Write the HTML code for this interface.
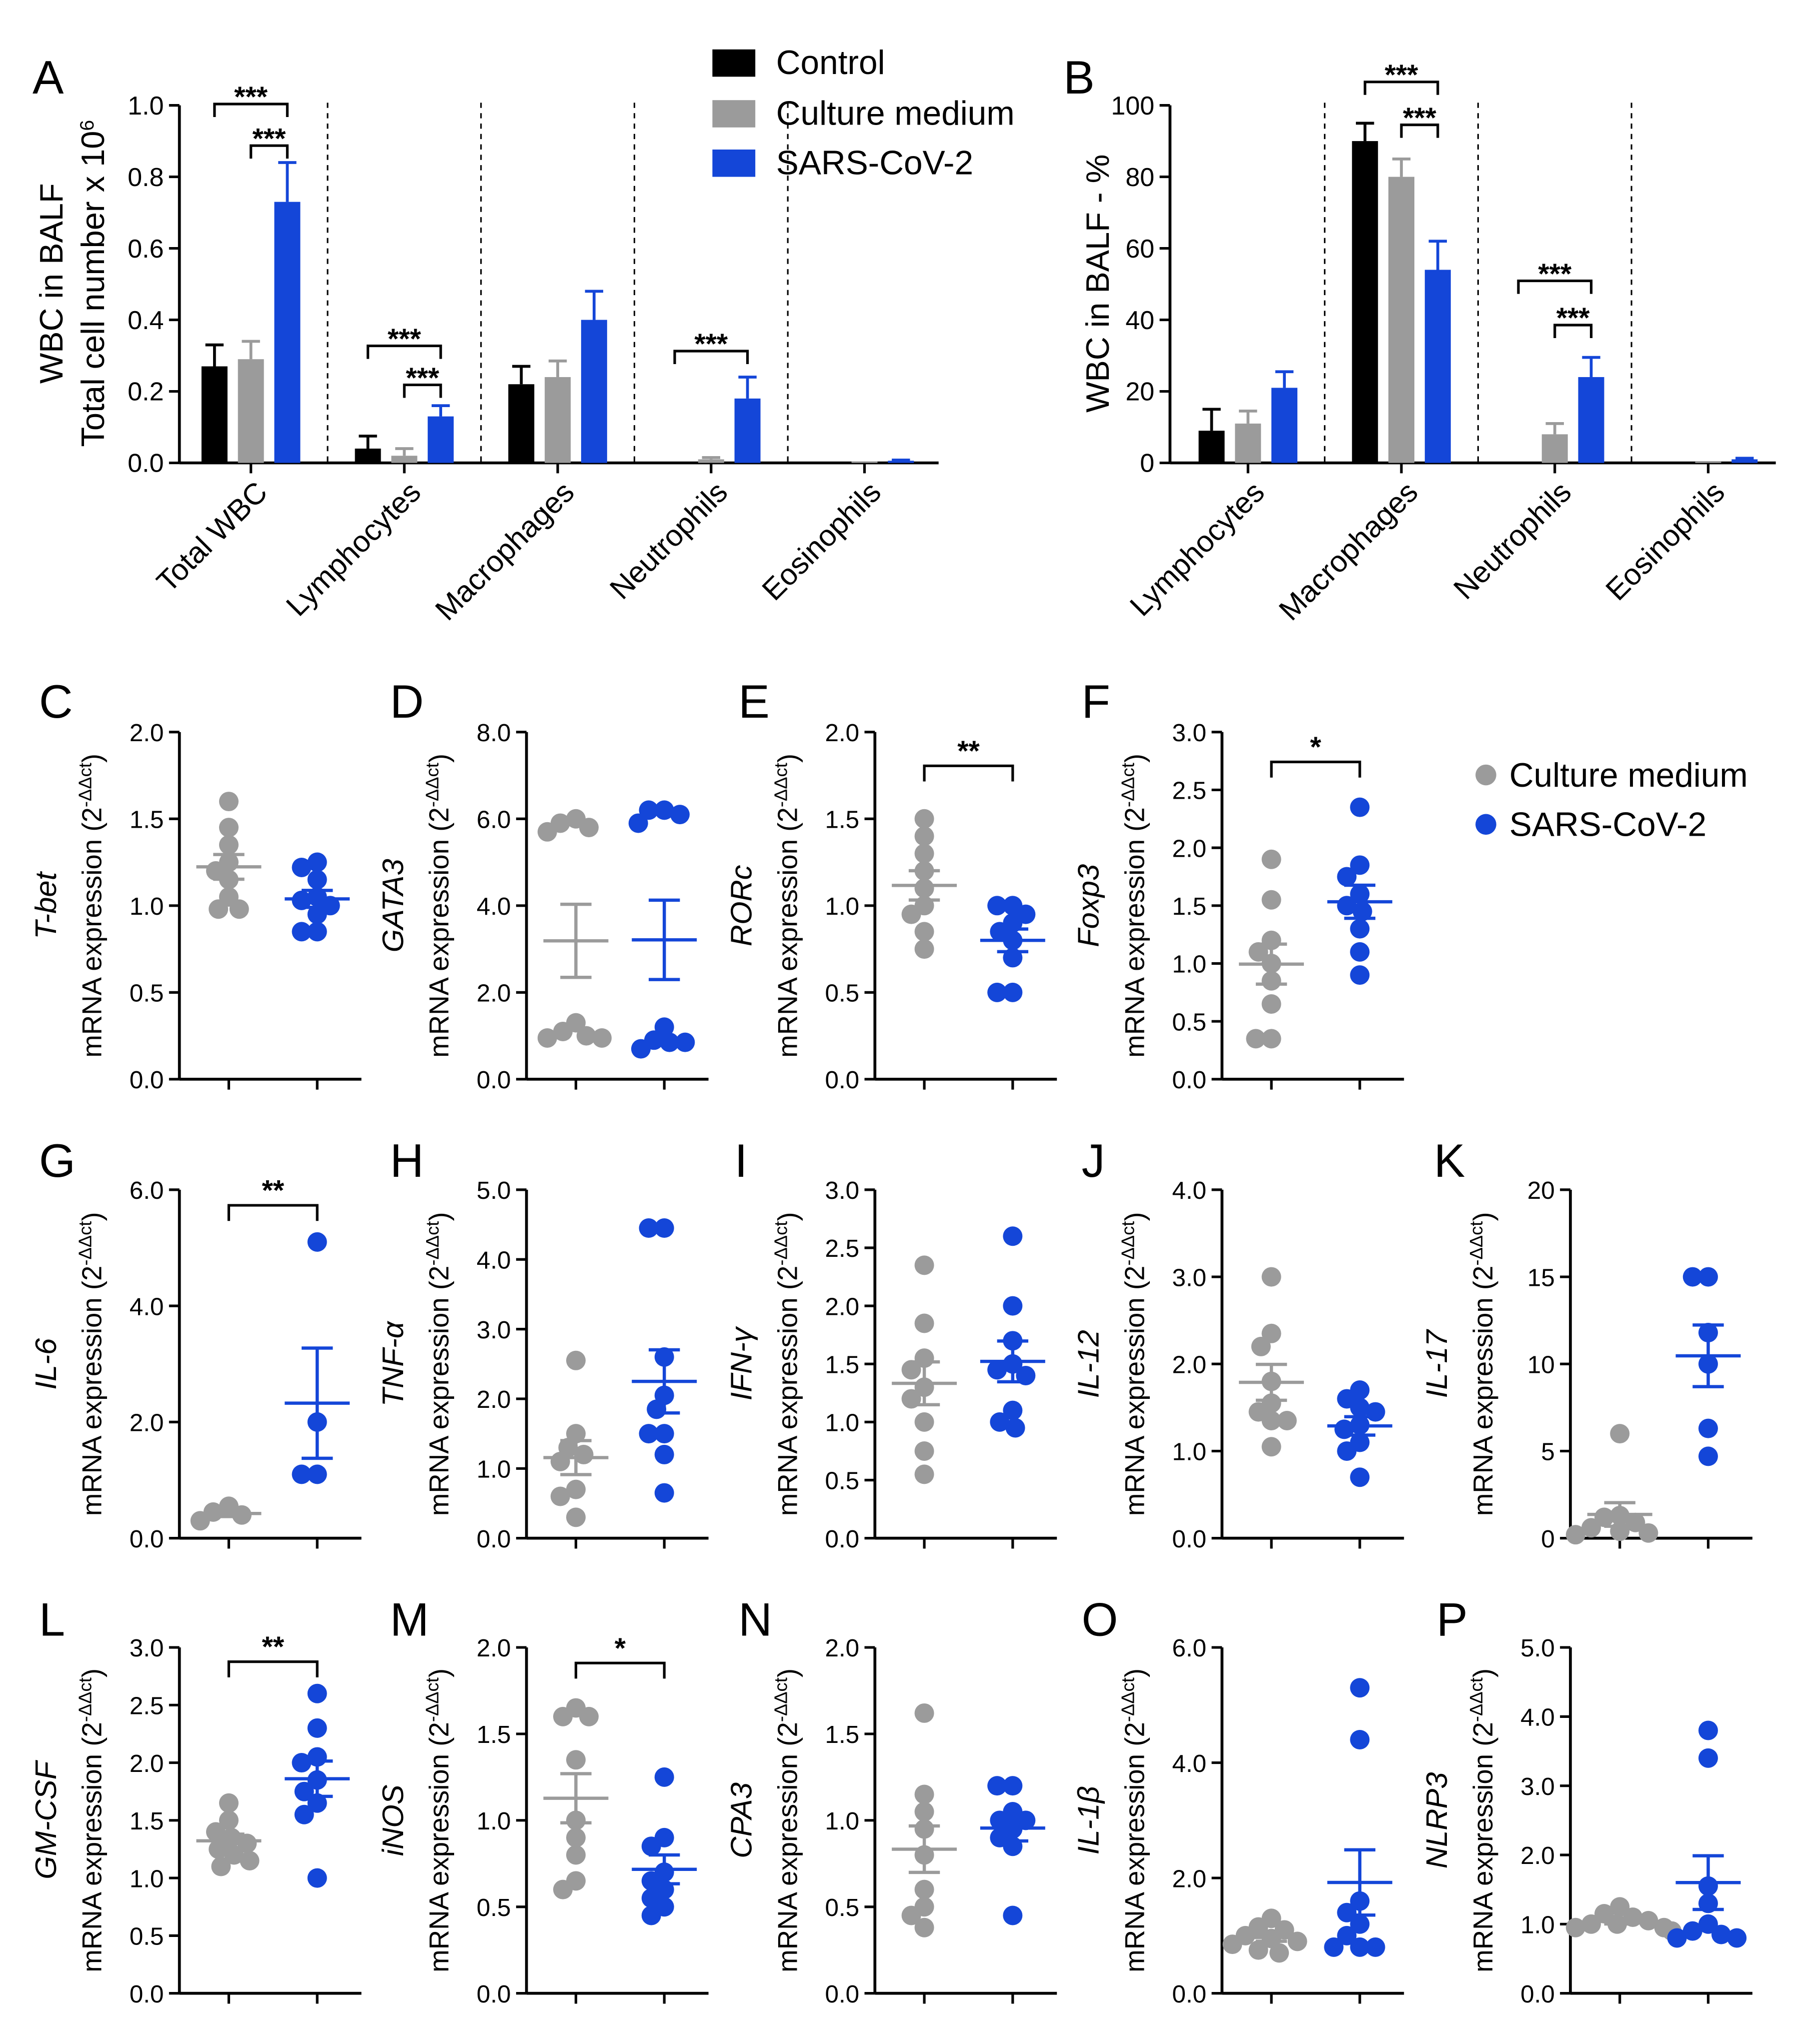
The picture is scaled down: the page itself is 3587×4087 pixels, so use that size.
<!DOCTYPE html>
<html><head><meta charset="utf-8">
<style>
html,body{margin:0;padding:0;background:#fff;}
svg{display:block;font-family:"Liberation Sans",Arial,sans-serif;}
</style></head>
<body>
<svg id="fig" width="3587" height="4087" viewBox="0 0 1380 1572" preserveAspectRatio="none" xmlns="http://www.w3.org/2000/svg"></svg>
<script>
// ---------- Panel A data ----------
const aCategories=["Total  WBC","Lymphocytes","Macrophages","Neutrophils","Eosinophils"];
const aControl=[0.27,0.04,0.22,0,0];
const aControlErr=[0.06,0.035,0.05,0,0];
const aCulture=[0.29,0.02,0.24,0.01,0.004];
const aCultureErr=[0.05,0.02,0.045,0.005,0];
const aSars=[0.73,0.13,0.40,0.18,0.006];
const aSarsErr=[0.11,0.03,0.08,0.06,0.002];
const aTicks=["0.0","0.2","0.4","0.6","0.8","1.0"];
// ---------- Panel B data ----------
const bCategories=["Lymphocytes","Macrophages","Neutrophils","Eosinophils"];
const bControl=[9,90,0.3,0];
const bControlErr=[6,5,0,0];
const bCulture=[11,80,8,0.5];
const bCultureErr=[3.5,5,3,0];
const bSars=[21,54,24,1];
const bSarsErr=[4.5,8,5.5,0.3];
const bTicks=["0","20","40","60","80","100"];
// ---------- scatter data ----------
const cGrey=[1.6,1.45,1.35,1.25,1.2,1.15,1.05,0.98,0.98];
const cBlue=[1.25,1.22,1.15,1.05,1.03,1.0,0.95,0.85,0.85];
const dGrey=[6.0,5.9,5.8,5.7,1.3,1.1,1.0,0.95,0.95];
const dBlue=[6.2,6.2,6.1,5.9,1.2,0.9,0.85,0.85,0.7];
const eGrey=[1.5,1.4,1.3,1.2,1.1,1.0,0.95,0.85,0.75];
const eBlue=[1.0,1.0,0.95,0.9,0.85,0.8,0.7,0.5,0.5];
const fGrey=[1.9,1.55,1.2,1.1,1.0,0.85,0.65,0.35,0.35];
const fBlue=[2.35,1.85,1.75,1.6,1.5,1.45,1.3,1.1,0.9];
const gGrey=[0.55,0.45,0.4,0.3];
const gBlue=[5.1,2.0,1.1,1.1];
const hGrey=[2.55,1.5,1.3,1.2,1.1,0.7,0.6,0.3];
const hBlue=[4.45,4.45,2.6,2.05,1.85,1.5,1.5,1.2,0.65];
const iGrey=[2.35,1.85,1.55,1.45,1.3,1.2,1.0,0.75,0.55];
const iBlue=[2.6,2.0,1.7,1.5,1.45,1.4,1.1,1.0,0.95];
const jGrey=[3.0,2.35,2.2,1.8,1.55,1.45,1.35,1.35,1.05];
const jBlue=[1.7,1.6,1.5,1.45,1.3,1.25,1.1,1.0,0.7];
const kGrey=[6.0,1.3,1.2,0.9,0.6,0.4,0.3,0.2];
const kBlue=[15,15,11.8,10,6.3,4.7];
const lGrey=[1.65,1.5,1.4,1.35,1.3,1.25,1.2,1.15,1.1];
const lBlue=[2.6,2.3,2.05,2.0,1.85,1.75,1.65,1.55,1.0];
const mGrey=[1.65,1.6,1.6,1.35,1.0,0.9,0.8,0.65,0.6];
const mBlue=[1.25,0.9,0.85,0.7,0.65,0.6,0.55,0.5,0.45];
const nGrey=[1.62,1.15,1.05,0.95,0.8,0.6,0.5,0.45,0.38];
const nBlue=[1.2,1.2,1.05,1.0,1.0,0.95,0.9,0.85,0.45];
const oGrey=[1.3,1.15,1.1,1.0,0.95,0.9,0.85,0.75,0.7];
const oBlue=[5.3,4.4,1.6,1.4,1.2,1.0,0.8,0.8,0.8];
const pGrey=[1.25,1.15,1.1,1.05,1.0,1.0,0.95,0.95,0.9];
const pBlue=[3.8,3.4,1.55,1.3,1.0,0.9,0.85,0.8,0.8];

const NS="http://www.w3.org/2000/svg";
const svg=document.getElementById("fig");
const BLACK="#000",GREY="#9b9b9b",BLUE="#1446d8";
function mk(tag,attrs,parent){const e=document.createElementNS(NS,tag);for(const k in attrs)e.setAttribute(k,attrs[k]);(parent||svg).appendChild(e);return e;}
function line(x1,y1,x2,y2,p,sw,col,dash){return mk("line",{x1,y1,x2,y2,stroke:col||"#000","stroke-width":sw||2,"stroke-dasharray":dash||"none"},p);}
function txt(x,y,s,size,p,anchor,extra){const t=mk("text",Object.assign({x,y,"font-size":size,"text-anchor":anchor||"start",fill:"#000"},extra||{}),p);t.textContent=s;return t;}

// ---------- bar chart ----------
function barChart(o){
  const g=mk("g",{});
  
  
  const ys=v=>o.yBot-(v/o.max)*(o.yBot-o.yTop);
  const ax=line(o.x0,o.yTop,o.x0,o.yBot,g,2.2);
  
  
  const xa=line(o.x0,o.yBot,o.x1,o.yBot,g,2.2);
  
  
  o.ticks.forEach((t,i)=>{
    const v=o.max*i/(o.ticks.length-1);
    const y=ys(v);
    line(o.x0-8,y,o.x0,y,g,2);
    const tl=txt(o.x0-12,y+7,t,20,g,"end");
    
    
  });
  const series=[[o.s1,o.e1,BLACK,"control"],[o.s2,o.e2,GREY,"culture-medium"],[o.s3,o.e3,BLUE,"sars-cov-2"]];
  o.cats.forEach((c,i)=>{
    const cx=o.c0+i*o.sp;
    series.forEach((s,j)=>{
      const bx=cx+(j-1)*28;
      const v=s[0][i],e=s[1][i];
      const y=ys(v),ye=ys(v+e);
      if(e>0){line(bx,ye,bx,y,g,2.2,s[2]);line(bx-7,ye,bx+7,ye,g,2.2,s[2]);}
      const r=mk("rect",{x:bx-10,y:y,width:20,height:Math.max(o.yBot-y,0.5),fill:s[2]},g);
      
      
    });
    line(cx,o.yBot,cx,o.yBot+8,g,2);
    const cl=txt(cx+14,o.yBot+24,c,23,g,"end",{transform:`rotate(-45 ${cx+14} ${o.yBot+24})`});
    
    
    if(i<o.cats.length-1){
      const d=line(cx+o.sp/2,o.yTop-2,cx+o.sp/2,o.yBot,g,1.2,"#000","4,4");
      
      
    }
  });
  o.brackets.forEach(b=>{
    const xa2=o.c0+b[0]*o.sp+(b[1]-1)*28, xb=o.c0+b[0]*o.sp+(b[2]-1)*28;
    const bg=mk("g",{},g);
    
    
    mk("path",{d:`M${xa2} ${b[3]+10}V${b[3]}H${xb}V${b[3]+10}`,fill:"none",stroke:"#000","stroke-width":2},bg);
    txt((xa2+xb)/2,b[3]+2,"***",22,bg,"middle",{"font-weight":"bold"});
  });
}
barChart({name:"panel-a-chart",x0:138,x1:722,yTop:81,yBot:356,max:1.0,ticks:aTicks,cats:aCategories,c0:193,sp:118,
  s1:aControl,e1:aControlErr,s2:aCulture,e2:aCultureErr,s3:aSars,e3:aSarsErr,
  brackets:[[0,0,2,80],[0,1,2,112],[1,0,2,266],[1,1,2,296],[3,0,2,270]]});
barChart({name:"panel-b-chart",x0:900,x1:1366,yTop:81,yBot:356,max:100,ticks:bTicks,cats:bCategories,c0:960,sp:118,
  s1:bControl,e1:bControlErr,s2:bCulture,e2:bCultureErr,s3:bSars,e3:bSarsErr,
  brackets:[[1,0,2,63],[1,1,2,96],[2,0,2,216],[2,1,2,250]]});

// titles A/B
function rotText(x,y,s,size,name){const t=txt(x,y,s,size,svg,"middle",{transform:`rotate(-90 ${x} ${y})`});return t;}
rotText(48,218,"WBC in BALF",25,"y-axis-title-a-line1");
const t2=rotText(80,218,"Total cell number x 10",25,"y-axis-title-a-line2");
const sup=mk("tspan",{"baseline-shift":"super","font-size":15},t2);sup.textContent="6";
rotText(853,218,"WBC in BALF - %",25,"y-axis-title-b");

// legend top
[["Control",BLACK,48],["Culture medium",GREY,87],["SARS-CoV-2",BLUE,125]].forEach(l=>{
  const g=mk("g",{});
  
  
  mk("rect",{x:548,y:l[2]-10,width:33,height:21,fill:l[1]},g);
  txt(597,l[2]+9,l[0],26,g);
});
// legend scatter
[["Culture medium",GREY,596],["SARS-CoV-2",BLUE,634]].forEach(l=>{
  const g=mk("g",{});
  
  
  mk("circle",{cx:1143,cy:l[2],r:8,fill:l[1]},g);
  txt(1161,l[2]+9,l[0],26,g);
});

// panel letters
[["A",25,72],["B",818,72],["C",30,552],["D",300,552],["E",568,552],["F",832,552],
 ["G",30,905],["H",300,905],["I",565,905],["J",832,905],["K",1103,905],
 ["L",30,1258],["M",300,1258],["N",568,1258],["O",832,1258],["P",1105,1258]].forEach(p=>{
  const t=txt(p[1],p[2],p[0],36,svg);
  
  
});

// ---------- scatter ----------
function swarm(vals,ys,cx,g,col,name){
  const placed=[];
  vals.slice().sort((a,b)=>b-a).forEach(v=>{
    const y=ys(v);
    let x=cx;
    for(let off=0;off<=40;off+=2){
      const c1=placed.every(p=>Math.hypot(p[0]-(cx-off),p[1]-y)>=12);
      if(c1){x=cx-off;break;}
      const c2=placed.every(p=>Math.hypot(p[0]-(cx+off),p[1]-y)>=12);
      if(c2){x=cx+off;break;}
      x=cx+off;
    }
    placed.push([x,y]);
    const d=mk("circle",{cx:x,cy:y,r:7.5,fill:col},g);
    
    
  });
  const n=vals.length,m=vals.reduce((a,b)=>a+b,0)/n;
  const sd=Math.sqrt(vals.reduce((a,b)=>a+(b-m)*(b-m),0)/(n-1));
  const se=sd/Math.sqrt(n);
  const ml=line(cx-25,ys(m),cx+25,ys(m),g,2.5,col);
  
  
  line(cx,ys(m+se),cx,ys(m-se),g,2.5,col);
  line(cx-12,ys(m+se),cx+12,ys(m+se),g,2.5,col);
  line(cx-12,ys(m-se),cx+12,ys(m-se),g,2.5,col);
}
function scatter(o){
  const g=mk("g",{});
  
  
  const ys=v=>o.bot-(v/o.max)*(o.bot-o.top);
  const ya=line(o.ax,o.top,o.ax,o.bot,g,2.2);
  
  
  const xa=line(o.ax,o.bot,o.ax+140,o.bot,g,2.2);
  
  
  for(let v=0;v<=o.max+1e-9;v+=o.step){
    const y=ys(v);
    line(o.ax-8,y,o.ax,y,g,2);
    const tl=txt(o.ax-12,y+7,v.toFixed(o.dec),19,g,"end");
    
    
  }
  const g1=o.ax+38,g2=o.ax+106;
  line(g1,o.bot,g1,o.bot+8,g,2);line(g2,o.bot,g2,o.bot+8,g,2);
  swarm(o.grey,ys,g1,g,GREY,'point-culture-medium');
  swarm(o.blue,ys,g2,g,BLUE,'point-sars-cov-2');
  const cy=(o.top+o.bot)/2;
  const gt=txt(o.ax-95,cy,o.gene,23,g,"middle",{"font-style":"italic",transform:`rotate(-90 ${o.ax-95} ${cy})`});
  
  
  const mt=txt(o.ax-60,cy,"mRNA expression (2",21,g,"middle",{transform:`rotate(-90 ${o.ax-60} ${cy})`});
  
  
  const s=mk("tspan",{"baseline-shift":"super","font-size":14},mt);s.textContent="-ΔΔct";
  const s2=mk("tspan",{},mt);s2.textContent=")";
  if(o.br){
    const bg=mk("g",{},g);
    
    
    mk("path",{d:`M${g1} ${o.br[0]+12}V${o.br[0]}H${g2}V${o.br[0]+12}`,fill:"none",stroke:"#000","stroke-width":2},bg);
    txt((g1+g2)/2,o.br[0]-4,o.br[1],22,bg,"middle",{"font-weight":"bold"});
  }
}
const R1=[563,830],R2=[915,1183],R3=[1267,1533];
scatter({id:"c",ax:138,top:R1[0],bot:R1[1],max:2,step:0.5,dec:1,grey:cGrey,blue:cBlue,gene:"T-bet"});
scatter({id:"d",ax:405,top:R1[0],bot:R1[1],max:8,step:2,dec:1,grey:dGrey,blue:dBlue,gene:"GATA3"});
scatter({id:"e",ax:673,top:R1[0],bot:R1[1],max:2,step:0.5,dec:1,grey:eGrey,blue:eBlue,gene:"RORc",br:[589,"**"]});
scatter({id:"f",ax:940,top:R1[0],bot:R1[1],max:3,step:0.5,dec:1,grey:fGrey,blue:fBlue,gene:"Foxp3",br:[586,"*"]});
scatter({id:"g",ax:138,top:R2[0],bot:R2[1],max:6,step:2,dec:1,grey:gGrey,blue:gBlue,gene:"IL-6",br:[927,"**"]});
scatter({id:"h",ax:405,top:R2[0],bot:R2[1],max:5,step:1,dec:1,grey:hGrey,blue:hBlue,gene:"TNF-α"});
scatter({id:"i",ax:673,top:R2[0],bot:R2[1],max:3,step:0.5,dec:1,grey:iGrey,blue:iBlue,gene:"IFN-γ"});
scatter({id:"j",ax:940,top:R2[0],bot:R2[1],max:4,step:1,dec:1,grey:jGrey,blue:jBlue,gene:"IL-12"});
scatter({id:"k",ax:1208,top:R2[0],bot:R2[1],max:20,step:5,dec:0,grey:kGrey,blue:kBlue,gene:"IL-17"});
scatter({id:"l",ax:138,top:R3[0],bot:R3[1],max:3,step:0.5,dec:1,grey:lGrey,blue:lBlue,gene:"GM-CSF",br:[1278,"**"]});
scatter({id:"m",ax:405,top:R3[0],bot:R3[1],max:2,step:0.5,dec:1,grey:mGrey,blue:mBlue,gene:"iNOS",br:[1279,"*"]});
scatter({id:"n",ax:673,top:R3[0],bot:R3[1],max:2,step:0.5,dec:1,grey:nGrey,blue:nBlue,gene:"CPA3"});
scatter({id:"o",ax:940,top:R3[0],bot:R3[1],max:6,step:2,dec:1,grey:oGrey,blue:oBlue,gene:"IL-1β"});
scatter({id:"p",ax:1208,top:R3[0],bot:R3[1],max:5,step:1,dec:1,grey:pGrey,blue:pBlue,gene:"NLRP3"});
</script>
</body></html>
